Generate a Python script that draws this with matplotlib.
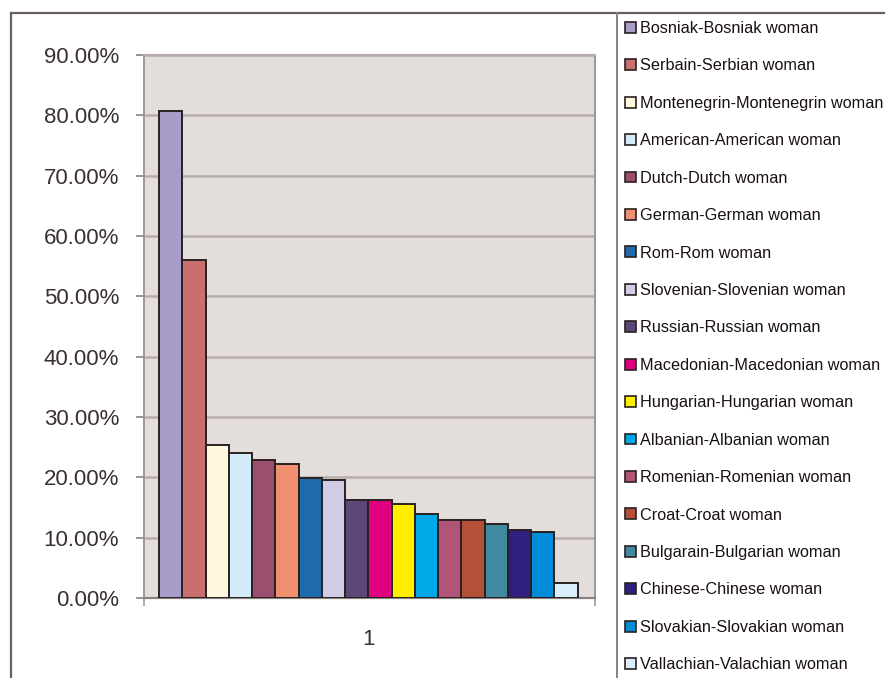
import matplotlib
matplotlib.use("Agg")
import matplotlib.pyplot as plt
from matplotlib.patches import Patch
from matplotlib.lines import Line2D
from matplotlib.ticker import FuncFormatter

plt.rcParams['font.family'] = ['Liberation Sans', 'DejaVu Sans']

# series: one category ("1"), 18 series
labels = [
    "Bosniak-Bosniak woman", "Serbain-Serbian woman", "Montenegrin-Montenegrin woman",
    "American-American woman", "Dutch-Dutch woman", "German-German woman",
    "Rom-Rom woman", "Slovenian-Slovenian woman", "Russian-Russian woman",
    "Macedonian-Macedonian woman", "Hungarian-Hungarian woman", "Albanian-Albanian woman",
    "Romenian-Romenian woman", "Croat-Croat woman", "Bulgarain-Bulgarian woman",
    "Chinese-Chinese woman", "Slovakian-Slovakian woman", "Vallachian-Valachian woman",
]
values = [0.807, 0.560, 0.253, 0.240, 0.229, 0.222, 0.199, 0.196, 0.162,
          0.162, 0.156, 0.140, 0.129, 0.129, 0.122, 0.113, 0.109, 0.025]
colors = ["#A89CC8", "#C87070", "#FFF8DC", "#D4ECFA", "#9B4F6E", "#F09070",
          "#1F6AAA", "#D0CCE6", "#5C4778", "#E0007F", "#FFEE00", "#00A8E8",
          "#B05478", "#B45038", "#3F8AA0", "#2E1F80", "#008CD6", "#D8EEFA"]
category = "1"
y_ticks = [0.0, 0.1, 0.2, 0.3, 0.4, 0.5, 0.6, 0.7, 0.8, 0.9]

W, H = 886, 678
fig = plt.figure(figsize=(W / 100, H / 100), dpi=100)
fig.patch.set_facecolor("white")

ax = fig.add_axes([144 / W, 80 / H, 451 / W, 543 / H])
ax.set_facecolor("#E3DEDB")

n = len(values)
xs = [i - (n - 1) / 2 for i in range(n)]
ax.bar(xs, values, width=1.0, color=colors, edgecolor="#2A2020", linewidth=1.4, zorder=3)

ax.set_xlim(-9.65, 9.75)
ax.set_ylim(0, 0.9)
ax.set_yticks(y_ticks)
ax.yaxis.set_major_formatter(FuncFormatter(lambda v, p: f"{v * 100:.2f}%"))
ax.yaxis.grid(True, color="#B8ADAD", linewidth=1.8, zorder=1)
ax.tick_params(axis="y", direction="out", length=6, width=1.2, color="#8A8080",
               labelsize=16, labelcolor="#3A3030", pad=12)

ax.set_xticks([0])
ax.set_xticklabels([category])
ax.set_xticks([-9.65, 9.75], minor=True)
ax.tick_params(axis="x", which="major", length=0, labelsize=16, labelcolor="#3A3030", pad=22)
ax.tick_params(axis="x", which="minor", direction="out", length=6, width=1.2, color="#A09898")

for side in ["left", "right"]:
    ax.spines[side].set_color("#A09898")
    ax.spines[side].set_linewidth(1.4)
ax.spines["bottom"].set_color("#8A8080")
ax.spines["bottom"].set_linewidth(1.6)
ax.spines["top"].set_color("#B8ADAD")
ax.spines["top"].set_linewidth(1.6)

# chart-area frame and legend box edge
fig.add_artist(Line2D([11 / W, 11 / W], [0, 1 - 13 / H], color="#6A6060", linewidth=1.6))
fig.add_artist(Line2D([11 / W, 884 / W], [1 - 13 / H, 1 - 13 / H], color="#6A6060", linewidth=1.6))
fig.add_artist(Line2D([617 / W, 617 / W], [0, 1 - 13 / H], color="#8A8080", linewidth=1.4))

handles = [Patch(facecolor=c, edgecolor="#2A2020", linewidth=1.2) for c in colors]
fig.legend(handles, labels, loc="upper left", bbox_to_anchor=(625 / W, 1 - 21 / H),
           frameon=False, fontsize=11.7, handlelength=0.65, handleheight=0.65,
           handletextpad=0.25, labelspacing=1.38, borderpad=0, borderaxespad=0,
           labelcolor="#1A1010")

fig.savefig("out.png", dpi=100)
